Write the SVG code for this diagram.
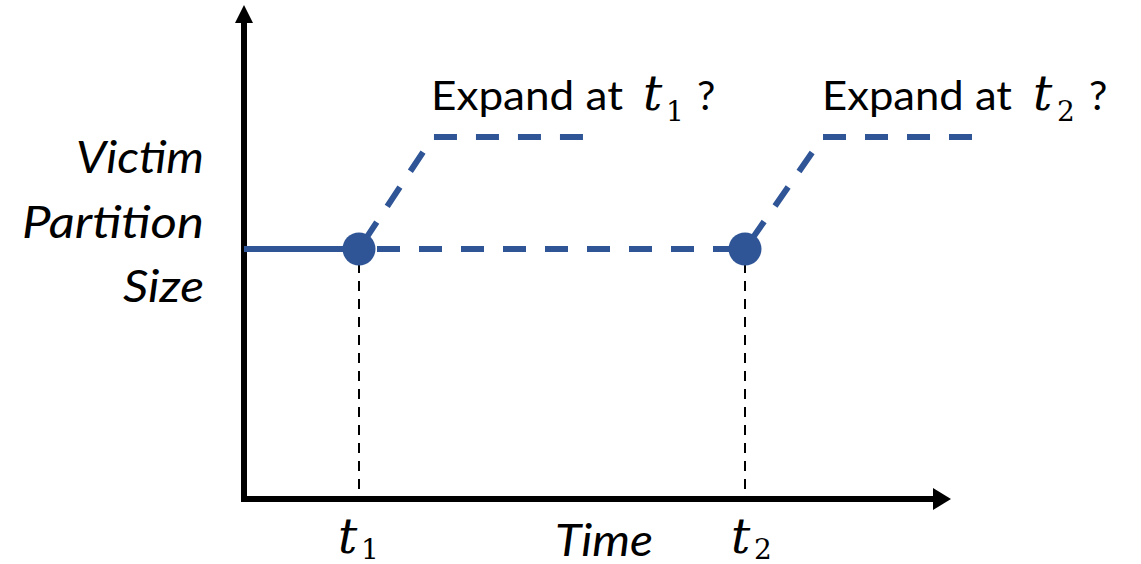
<svg xmlns="http://www.w3.org/2000/svg" width="1141" height="564" viewBox="0 0 1141 564">
<style>
.lbl{font-family:Lato,"Open Sans",sans-serif;font-size:41px;fill:#000}
.ylbl{font-family:Lato,"Open Sans",sans-serif;font-size:44px;font-style:italic;fill:#000}
.math{font-family:"DejaVu Serif","Liberation Serif",serif;font-style:italic;font-size:48px;fill:#000}
.sub{font-family:"DejaVu Serif","Liberation Serif",serif;font-size:28px;fill:#000}
.blue{stroke:#2F5597;stroke-width:6;fill:none}
.dash{stroke-dasharray:23 19}
.guide{stroke:#000;stroke-width:2;stroke-dasharray:10 8;fill:none}
</style>
<g id="axes">
<line x1="244" y1="502" x2="244" y2="20" stroke="#000" stroke-width="6"/>
<polygon points="244,5 235,23 253,23" fill="#000"/>
<line x1="241" y1="499" x2="935" y2="499" stroke="#000" stroke-width="6"/>
<polygon points="951,499 933,488 933,510" fill="#000"/>
</g>
<g id="connectors">
<line class="guide" x1="359" y1="263" x2="359" y2="496"/>
<line class="guide" x1="745" y1="263" x2="745" y2="496"/>
<line class="blue" x1="244" y1="249" x2="359" y2="249"/>
<line class="blue dash" x1="359" y1="249" x2="745" y2="249" stroke-dashoffset="24"/>
<polyline class="blue dash" points="359,249 433,137 583,137" stroke-dashoffset="32.8"/>
<polyline class="blue dash" points="745,249 823,137 972,137" stroke-dashoffset="31.5"/>
</g>
<g id="point-t1"><circle cx="359" cy="249" r="16.5" fill="#2F5597"/></g>
<g id="point-t2"><circle cx="745" cy="249" r="16.5" fill="#2F5597"/></g>
<g id="ylabel">
<text class="ylbl" text-anchor="end" x="204" y="173" textLength="128" lengthAdjust="spacingAndGlyphs">Victim</text>
<text class="ylbl" text-anchor="end" x="204" y="238" textLength="182" lengthAdjust="spacingAndGlyphs">Partition</text>
<text class="ylbl" text-anchor="end" x="204" y="302" textLength="81" lengthAdjust="spacingAndGlyphs">Size</text>
</g>
<g id="label-expand1">
<text class="lbl" x="431" y="110" textLength="192" lengthAdjust="spacingAndGlyphs">Expand at</text>
<text class="math" x="643" y="110">t</text>
<text class="sub" x="666" y="121">1</text>
<text class="lbl" x="697" y="110">?</text>
</g>
<g id="label-expand2">
<text class="lbl" x="822" y="110" textLength="190" lengthAdjust="spacingAndGlyphs">Expand at</text>
<text class="math" x="1033" y="110">t</text>
<text class="sub" x="1057" y="121">2</text>
<text class="lbl" x="1089" y="110">?</text>
</g>
<g id="xlabels">
<text class="math" x="338" y="553">t</text>
<text class="sub" x="361" y="559">1</text>
<text class="ylbl" x="555" y="556" textLength="98" lengthAdjust="spacingAndGlyphs">Time</text>
<text class="math" x="731" y="553">t</text>
<text class="sub" x="754" y="559">2</text>
</g>
</svg>
